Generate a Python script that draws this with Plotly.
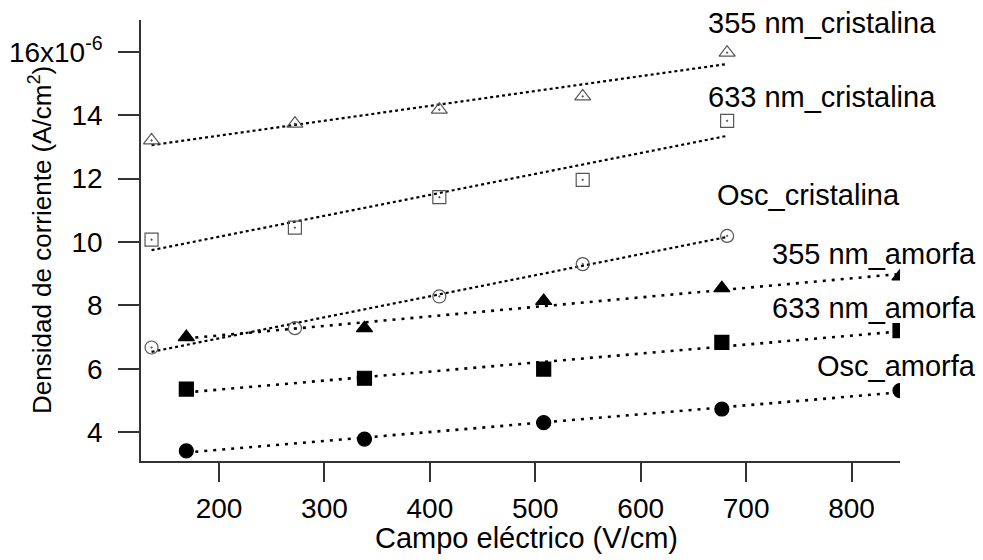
import numpy as np
import plotly.graph_objects as go

# ---- data (current density in units of 1e-6 A/cm^2) ----
x_cristalina = [136, 272, 409, 545, 682]
y_355_cristalina = [13.20, 13.73, 14.17, 14.59, 15.97]
y_633_cristalina = [10.07, 10.45, 11.41, 11.96, 13.82]
y_osc_cristalina = [6.67, 7.28, 8.28, 9.30, 10.19]

x_amorfa = [169, 338, 508, 677, 846]
y_355_amorfa = [7.00, 7.28, 8.14, 8.54, 8.91]
y_633_amorfa = [5.36, 5.70, 5.99, 6.83, 7.20]
y_osc_amorfa = [3.41, 3.78, 4.30, 4.73, 5.31]

y_tickvals = [4, 6, 8, 10, 12, 14, 16]
y_ticktext = ["4", "6", "8", "10", "12", "14", "16x10<sup>-6</sup>"]
x_tickvals = [200, 300, 400, 500, 600, 700, 800]

labels = ["355 nm_cristalina", "633 nm_cristalina", "Osc_cristalina",
          "355 nm_amorfa", "633 nm_amorfa", "Osc_amorfa"]

FONT = "Liberation Sans, Arial, sans-serif"
W, H = 983, 560
L, R, T, B = 141, 900, 20, 461  # plot area in pixels
XTICK_LEN, YTICK_LEN = 19, 21


def px(xp):
    return (xp - L) / (R - L)


def py(yp):
    return (B - yp) / (B - T)


fig = go.Figure()

series = [
    (x_cristalina, y_355_cristalina, "triangle-up-open-dot", 14, "#555555", "dot", 2.2),
    (x_cristalina, y_633_cristalina, "square-open-dot", 13, "#555555", "dot", 2.2),
    (x_cristalina, y_osc_cristalina, "circle-open-dot", 13, "#555555", "dot", 2.2),
    (x_amorfa, y_355_amorfa, "triangle-up", 14, "black", "3px,6px", 2.6),
    (x_amorfa, y_633_amorfa, "square", 14, "black", "3px,6px", 2.6),
    (x_amorfa, y_osc_amorfa, "circle", 14, "black", "3px,6px", 2.6),
]

for (xs, ys, sym, size, col, dash, lw), name in zip(series, labels):
    xs_a = np.array(xs, dtype=float)
    ys_a = np.array(ys, dtype=float)
    m, c = np.polyfit(xs_a, ys_a, 1)
    xf = np.array([xs_a.min(), xs_a.max()])
    fig.add_trace(go.Scatter(
        x=xf, y=m * xf + c, mode="lines",
        line=dict(color="black", width=lw, dash=dash),
        showlegend=False, hoverinfo="skip"))
    fig.add_trace(go.Scatter(
        x=xs, y=ys, mode="markers", name=name,
        marker=dict(symbol=sym, size=size, color=col,
                    line=dict(color=col, width=1.2)),
        showlegend=False))

# series labels
label_pos = [
    (938, 23, "right"),
    (938, 97, "right"),
    (902, 195, "right"),
    (978, 254, "right"),
    (978, 308, "right"),
    (978, 366, "right"),
]
for text, (xp, yp, anc) in zip(labels, label_pos):
    fig.add_annotation(x=px(xp), y=py(yp), xref="paper", yref="paper",
                       text=text, showarrow=False, xanchor=anc, yanchor="middle",
                       font=dict(family=FONT, size=29, color="black"))

# axis titles
fig.add_annotation(x=px(40), y=py(240), xref="paper", yref="paper",
                   text="Densidad de corriente (A/cm<sup>2</sup>)", textangle=-90,
                   showarrow=False, xanchor="center", yanchor="middle",
                   font=dict(family=FONT, size=26, color="black"))
fig.add_annotation(x=px(526), y=py(538), xref="paper", yref="paper",
                   text="Campo eléctrico (V/cm)",
                   showarrow=False, xanchor="center", yanchor="middle",
                   font=dict(family=FONT, size=29, color="black"))

fig.update_layout(
    width=W, height=H,
    margin=dict(l=L, r=W - R, t=T, b=H - B, pad=0, autoexpand=False),
    paper_bgcolor="white", plot_bgcolor="white",
    font=dict(family=FONT, size=28, color="black"),
    xaxis=dict(range=[126, 846], tickmode="array", tickvals=x_tickvals,
               ticks="outside", ticklen=XTICK_LEN, tickwidth=1.8, tickcolor="#333333",
               showline=True, linecolor="#333333", linewidth=1.5,
               showgrid=False, zeroline=False, ticklabelstandoff=3),
    yaxis=dict(range=[3.09, 17.0], tickmode="array", tickvals=y_tickvals,
               ticktext=y_ticktext,
               ticks="outside", ticklen=YTICK_LEN, tickwidth=1.8, tickcolor="#333333",
               showline=True, linecolor="#333333", linewidth=1.5,
               showgrid=False, zeroline=False, ticklabelstandoff=10),
)

fig.write_html("out.html", config={"displayModeBar": False},
               post_script="document.body.style.margin='0';document.body.style.overflow='hidden';")
